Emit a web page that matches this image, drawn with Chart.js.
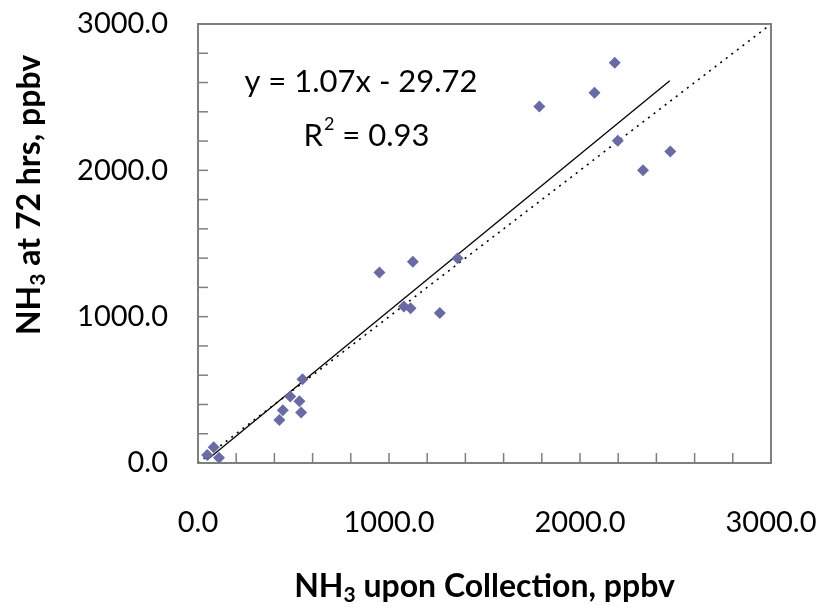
<!DOCTYPE html>
<html>
<head>
<meta charset="utf-8">
<script src="https://cdn.jsdelivr.net/npm/chart.js@4.4.1/dist/chart.umd.min.js"></script>
<style>html,body{margin:0;padding:0;background:#fff}</style>
</head>
<body>
<canvas id="chart" width="829" height="609"></canvas>
<script>
// Datos (ppbv)
const nh3Collected = [48, 82, 110, 426, 444, 483, 531, 540, 547, 950, 1078, 1113, 1125, 1266, 1359, 1787, 2076, 2182, 2198, 2330, 2473];
const nh3At72h     = [55, 108, 36, 294, 360, 454, 422, 345, 572, 1301, 1070, 1058, 1376, 1025, 1399, 2437, 2531, 2735, 2202, 2001, 2129];

// Linea de tendencia (extremos) y linea 1:1
const trendX = [50, 2470];
const trendY = [24, 2613];
const oneToOneX = [0, 3000];
const oneToOneY = [0, 3000];

const axisTicks = [0, 1000, 2000, 3000];
const eqText = 'y = 1.07x - 29.72';
const r2Text = ' = 0.93';
const xTitle = ['NH', '3', ' upon Collection, ppbv'];
const yTitle = ['NH', '3', ' at 72 hrs, ppbv'];

const FONT = 'Lato, "Open Sans", sans-serif';
const toPts = (xs, ys) => xs.map((x, i) => ({x, y: ys[i]}));

// Texto con subindice
function drawSub(ctx, parts, x, y, size){
  const sub = Math.round(size*0.65);
  ctx.font = `bold ${size}px ${FONT}`;
  const w0 = ctx.measureText(parts[0]).width;
  const w2 = ctx.measureText(parts[2]).width;
  ctx.font = `bold ${sub}px ${FONT}`;
  const w1 = ctx.measureText(parts[1]).width;
  let cx = x - (w0 + w1 + w2) / 2;
  ctx.textAlign = 'left'; ctx.textBaseline = 'alphabetic';
  ctx.font = `bold ${size}px ${FONT}`;
  ctx.fillText(parts[0], cx, y); cx += w0;
  ctx.font = `bold ${sub}px ${FONT}`;
  ctx.fillText(parts[1], cx, y + size*0.16); cx += w1;
  ctx.font = `bold ${size}px ${FONT}`;
  ctx.fillText(parts[2], cx, y);
}

const decor = {
  id: 'decor',
  afterDraw(chart){
    const {ctx, chartArea: a, scales: {x, y}} = chart;
    ctx.save();
    // marco
    ctx.strokeStyle = '#7f7f7f'; ctx.lineWidth = 2;
    ctx.strokeRect(a.left, a.top, a.right - a.left, a.bottom - a.top);
    // marcas hacia dentro
    ctx.lineWidth = 1.5;
    x.ticks.forEach(t => {
      const px = x.getPixelForValue(t.value);
      ctx.beginPath(); ctx.moveTo(px, a.bottom); ctx.lineTo(px, a.bottom - 10); ctx.stroke();
    });
    y.ticks.forEach(t => {
      const py = y.getPixelForValue(t.value);
      ctx.beginPath(); ctx.moveTo(a.left, py); ctx.lineTo(a.left + 10, py); ctx.stroke();
    });
    ctx.fillStyle = '#000';
    // titulos de ejes
    drawSub(ctx, xTitle, (a.left + a.right) / 2, 597, 32);
    ctx.translate(40, 195); ctx.rotate(-Math.PI / 2);
    drawSub(ctx, yTitle, 0, 0, 32);
    ctx.restore();
    // ecuacion
    ctx.save();
    ctx.fillStyle = '#000'; ctx.textBaseline = 'alphabetic';
    ctx.font = `31px ${FONT}`; ctx.textAlign = 'center';
    ctx.fillText(eqText, 361, 92);
    const wR = ctx.measureText('R').width, wRest = ctx.measureText(r2Text).width;
    ctx.font = `18px ${FONT}`; const w2 = ctx.measureText('2').width;
    let cx = 366 - (wR + w2 + wRest) / 2;
    ctx.textAlign = 'left';
    ctx.font = `31px ${FONT}`; ctx.fillText('R', cx, 146); cx += wR;
    ctx.font = `18px ${FONT}`; ctx.fillText('2', cx + 1, 130); cx += w2 + 1;
    ctx.font = `31px ${FONT}`; ctx.fillText(r2Text, cx, 146);
    ctx.restore();
  }
};

// rejilla invisible: solo reserva el espacio entre eje y etiquetas
const hiddenGrid = len => ({ display: true, drawOnChartArea: false, drawTicks: true,
  tickLength: len, tickColor: 'rgba(0,0,0,0)' });

new Chart(document.getElementById('chart').getContext('2d'), {
  type: 'scatter',
  data: { datasets: [
    { label: 'datos', data: toPts(nh3Collected, nh3At72h), pointStyle: 'rectRot', pointRadius: 6,
      backgroundColor: '#6a6aa4', borderColor: '#6a6aa4', borderWidth: 0 },
    { label: 'tendencia', data: toPts(trendX, trendY), showLine: true, pointRadius: 0,
      borderColor: '#000', borderWidth: 1.3 },
    { label: '1:1', data: toPts(oneToOneX, oneToOneY), showLine: true, pointRadius: 0,
      borderColor: '#000', borderWidth: 1.6, borderDash: [2, 5] }
  ]},
  options: {
    responsive: false, animation: false,
    layout: { padding: { left: 0, top: 24, right: 58, bottom: 0 } },
    plugins: { legend: { display: false }, tooltip: { enabled: false } },
    scales: {
      x: {
        type: 'linear', min: 0, max: 3000,
        ticks: { stepSize: 200, padding: 0, maxRotation: 0, autoSkip: false, color: '#000',
          font: { family: FONT, size: 29 },
          callback: v => axisTicks.includes(v) ? v.toFixed(1) : '' },
        grid: hiddenGrid(42), border: { display: false },
        afterFit: s => { s.height = 146; }
      },
      y: {
        type: 'linear', min: 0, max: 3000,
        ticks: { stepSize: 200, padding: 0, autoSkip: false, color: '#000',
          font: { family: FONT, size: 29 },
          callback: v => axisTicks.includes(v) ? v.toFixed(1) : '' },
        grid: hiddenGrid(30), border: { display: false },
        afterFit: s => { s.width = 198; }
      }
    }
  },
  plugins: [decor]
});
</script>
</body>
</html>
